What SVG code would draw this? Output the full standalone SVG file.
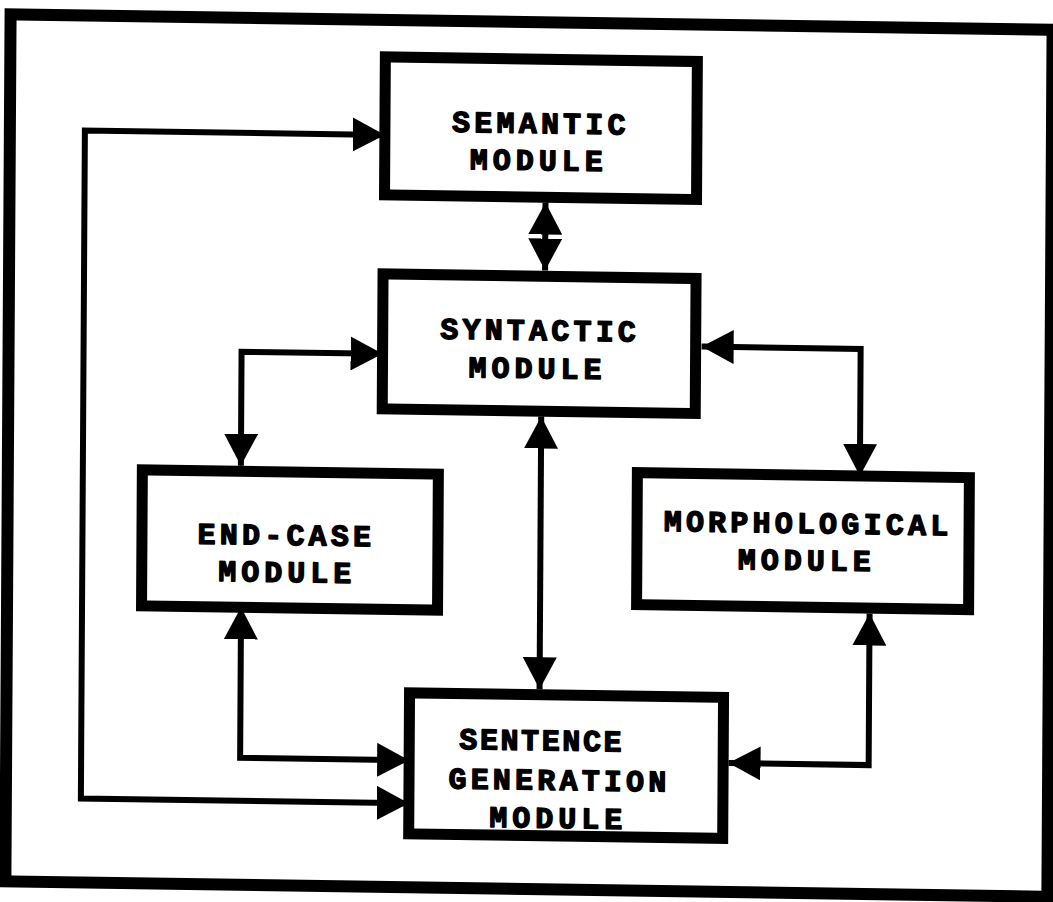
<svg xmlns="http://www.w3.org/2000/svg" width="1053" height="902" viewBox="0 0 1053 902">
  <style>
    .frame { fill: none; stroke: #000; stroke-width: 12; }
    .box { fill: #fff; stroke: #000; stroke-width: 11; }
    .link { fill: none; stroke: #000; stroke-width: 6; stroke-linejoin: miter; marker-start: url(#ah); marker-end: url(#ah); }
    .lbl { font-family: "Liberation Mono", "Courier New", monospace; font-weight: bold; font-size: 30px; letter-spacing: 4.2px; text-anchor: middle; fill: #000; stroke: #000; stroke-width: 1.4px; stroke-linejoin: round; }
    .wide { letter-spacing: 5px; }
    .tight { letter-spacing: 2.6px; }
  </style>
  <defs>
    <marker id="ah" viewBox="0 0 32 34" refX="32" refY="17" markerWidth="32" markerHeight="34" markerUnits="userSpaceOnUse" orient="auto-start-reverse">
      <path d="M0,0 L32,17 L0,34 Z" fill="#000"/>
    </marker>
  </defs>
  <rect width="1053" height="902" fill="#fff"/>
  <!-- whole sheet is slightly skewed, as scanned -->
  <g transform="matrix(1 0.0148 -0.006 1 2.706 -7.785)">
    <rect class="frame" x="8" y="22" width="1042" height="867"/>

    <g id="connectors">
      <!-- semantic <-> sentence generation, loop round the left side -->
      <path class="link" d="M383,137 H83 V805 H411"/>
      <!-- syntactic <-> end-case -->
      <path class="link" d="M382,356 H241 V470"/>
      <!-- syntactic <-> morphological -->
      <path class="link" d="M701,344 H860 V471"/>
      <!-- semantic <-> syntactic -->
      <path class="link" d="M544,202.3 V270.3"/>
      <!-- syntactic <-> sentence generation -->
      <path class="link" d="M541,416.3 V689"/>
      <!-- end-case <-> sentence generation -->
      <path class="link" d="M242,611.5 V762 H411"/>
      <!-- morphological <-> sentence generation -->
      <path class="link" d="M870.5,608.4 V760 H730.4"/>
    </g>

    <g id="semantic">
      <rect class="box" x="383" y="59" width="312" height="138"/>
      <text class="lbl" x="539" y="133">SEMANTIC</text>
      <text class="lbl wide" x="537" y="170">MODULE</text>
    </g>

    <g id="syntactic">
      <rect class="box" x="382" y="276" width="313" height="135"/>
      <text class="lbl" x="539.5" y="340">SYNTACTIC</text>
      <text class="lbl wide" x="537" y="378">MODULE</text>
    </g>

    <g id="end-case">
      <rect class="box" x="142.5" y="475.5" width="296" height="136"/>
      <text class="lbl" x="287" y="548.5">END-CASE</text>
      <text class="lbl wide" x="288" y="585.5">MODULE</text>
    </g>

    <g id="morphological">
      <rect class="box" x="637.5" y="471" width="332" height="132"/>
      <text class="lbl" x="808.5" y="529">MORPHOLOGICAL</text>
      <text class="lbl wide" x="807.5" y="566">MODULE</text>
    </g>

    <g id="sentence-generation">
      <rect class="box" x="411" y="694.5" width="314" height="141"/>
      <text class="lbl tight" x="543.5" y="750">SENTENCE</text>
      <text class="lbl" x="561.5" y="789.5">GENERATION</text>
      <text class="lbl wide" x="560.5" y="827.5">MODULE</text>
    </g>
  </g>
</svg>
